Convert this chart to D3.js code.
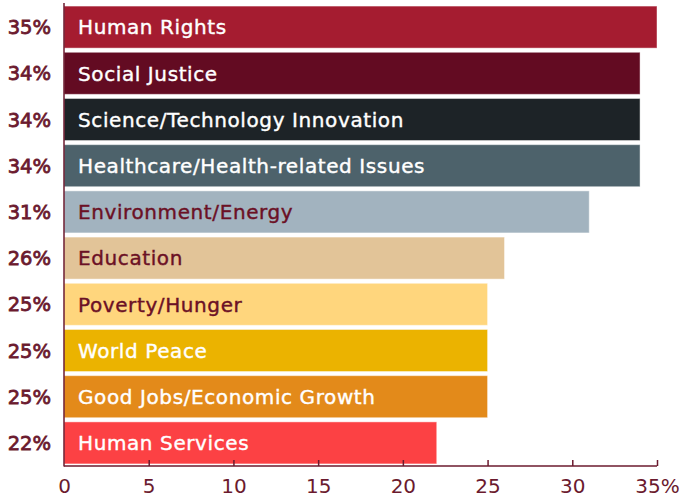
<!DOCTYPE html>
<html><head><meta charset="utf-8">
<script src="https://cdn.jsdelivr.net/npm/d3@7"></script>
<style>body{margin:0;background:#fff}svg{display:block}</style>
</head><body>
<svg id="c" width="683" height="500"></svg>
<script>
const categories = ["Human Rights","Social Justice","Science/Technology Innovation","Healthcare/Health-related Issues","Environment/Energy","Education","Poverty/Hunger","World Peace","Good Jobs/Economic Growth","Human Services"];
const values = [35,34,34,34,31,26,25,25,25,22];
const barColors = ["#a51c30","#630b22","#1d2327","#4d626b","#a2b3bf","#e2c498","#ffd67d","#ebb300","#e38a1a","#fc4144"];
const textColors = ["#fff","#fff","#fff","#fff","#6b1025","#6b1025","#6b1025","#fff","#fff","#fff"];
const xTicks = [0,5,10,15,20,25,30,35];

const maroon = "#6b1a2e";
const font = "'DejaVu Sans', sans-serif";
const svg = d3.select("#c");
const x = d3.scaleLinear().domain([0,35]).range([64,657]);
const y = d3.scaleBand().domain(categories).range([4,466]).paddingInner(0.09).paddingOuter(0.045);

const g = svg.append("g");
g.selectAll("rect").data(categories).join("rect")
  .attr("x", x(0)).attr("y", d=>y(d))
  .attr("width", (d,i)=>x(values[i])-x(0)).attr("height", y.bandwidth())
  .attr("fill",(d,i)=>barColors[i])
  .attr("stroke","rgba(255,255,255,0.45)").attr("stroke-width",1);

g.selectAll("text.lbl").data(categories).join("text").attr("class","lbl")
  .attr("x", x(0)+14).attr("y", d=>y(d)+y.bandwidth()/2)
  .attr("dy","0.36em")
  .attr("fill",(d,i)=>textColors[i])
  .attr("stroke",(d,i)=>textColors[i]).attr("stroke-width",0.4)
  .style("font-family",font).style("font-size","20px").style("font-weight",400)
  .style("letter-spacing","0.6px")
  .text(d=>d);

g.selectAll("text.pct").data(categories).join("text").attr("class","pct")
  .attr("x", 51).attr("y", d=>y(d)+y.bandwidth()/2)
  .attr("dy","0.36em").attr("text-anchor","end")
  .attr("fill",maroon).attr("stroke",maroon).attr("stroke-width",0.8)
  .style("font-family",font).style("font-size","19.5px").style("font-weight",400)
  .text((d,i)=>values[i]+"%");

const ax = svg.append("g").attr("transform","translate(0,466)")
  .call(d3.axisBottom(x).tickValues(xTicks).tickSize(-6).tickPadding(13)
    .tickFormat(d=> d===35 ? "35%" : d));
ax.select(".domain").attr("stroke",maroon).attr("stroke-width",1.5).attr("d","M64,0H657");
ax.selectAll(".tick line").attr("stroke",maroon).attr("stroke-width",1.5);
ax.selectAll(".tick").filter(d=>d===0).select("line").remove();
ax.selectAll("text").attr("fill",maroon)
  .style("font-family",font).style("font-size","20px").style("font-weight",400);

svg.append("line").attr("x1",64).attr("x2",64).attr("y1",3).attr("y2",466.5)
  .attr("stroke",maroon).attr("stroke-width",1.5);
</script>
</body></html>
